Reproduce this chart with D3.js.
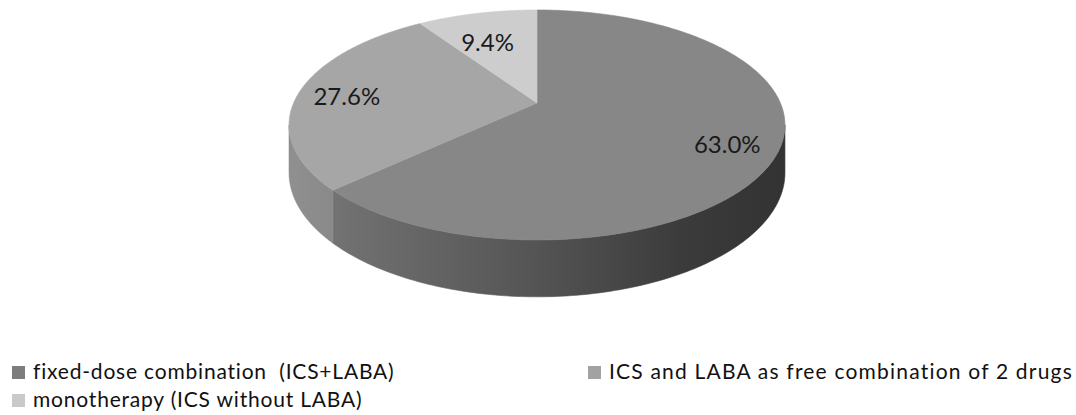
<!DOCTYPE html>
<html>
<head>
<meta charset="utf-8">
<script src="https://cdn.jsdelivr.net/npm/d3@7"></script>
<style>
  body { margin: 0; background: #fff; }
  svg { display: block; font-family: Lato, "Open Sans", sans-serif; }
</style>
</head>
<body>
<div id="chart"></div>
<script>
const categories = [
  "fixed-dose combination  (ICS+LABA)",
  "ICS and LABA as free combination of 2 drugs",
  "monotherapy (ICS without LABA)"
];
const values = [63.0, 27.6, 9.4];
const labels = ["63.0%", "27.6%", "9.4%"];

const width = 1076;
const height = 415;

// perspective ellipse
const cx = 537, cy = 103;
const rx = 243.4, ry = 110.8;
const k = 0.191;      // foreshortening
const depth = 46;

const topColors = ["#878787", "#a6a6a6", "#cdcdcd"];
const legendColors = ["#7d7d7d", "#a2a2a2", "#c9c9c9"];

function proj(a, r = 1, z = 0) {
  const u = r * Math.sin(a), v = r * Math.cos(a);
  const w = 1 + k * v;
  return [cx + (rx * u) / w, cy - (ry * v) / w + (depth * z) / w];
}

const svg = d3.select("#chart").append("svg")
  .attr("width", width)
  .attr("height", height)
  .attr("viewBox", [0, 0, width, height]);

const defs = svg.append("defs");
const g0 = defs.append("linearGradient").attr("id", "side0")
  .attr("gradientUnits", "userSpaceOnUse")
  .attr("x1", cx - rx).attr("x2", cx + rx).attr("y1", 0).attr("y2", 0);
[[0, "#7c7c7c"], [0.1, "#717171"], [0.5, "#545454"], [0.8, "#3b3b3b"], [1, "#333"]]
  .forEach(([o, c]) => g0.append("stop").attr("offset", o).attr("stop-color", c));
const g1 = defs.append("linearGradient").attr("id", "side1")
  .attr("gradientUnits", "userSpaceOnUse")
  .attr("x1", cx - rx).attr("x2", cx - rx + 50).attr("y1", 0).attr("y2", 0);
[[0, "#8f8f8f"], [1, "#888888"]]
  .forEach(([o, c]) => g1.append("stop").attr("offset", o).attr("stop-color", c));
const sideFills = ["url(#side0)", "url(#side1)", "#999"];

const arcs = d3.pie().sort(null)(values);

// visible front of the cylinder wall
const frontStart = Math.acos(-k);
const frontEnd = 2 * Math.PI - frontStart;

const line = d3.line();
const sides = svg.append("g");
arcs.forEach((d, i) => {
  const a0 = Math.max(d.startAngle, frontStart);
  const a1 = Math.min(d.endAngle, frontEnd);
  if (a1 <= a0) return;
  const steps = d3.range(0, 1.0001, 1 / 120).map(t => a0 + t * (a1 - a0));
  const pts = steps.map(a => proj(a, 1, 0))
    .concat(steps.slice().reverse().map(a => proj(a, 1, 1)));
  sides.append("path")
    .attr("d", line(pts) + "Z")
    .attr("fill", sideFills[i])
    .attr("stroke", sideFills[i])
    .attr("stroke-width", 0.6);
});

const tops = svg.append("g");
arcs.forEach((d, i) => {
  const steps = d3.range(0, 1.0001, 1 / 200)
    .map(t => d.startAngle + t * (d.endAngle - d.startAngle));
  const pts = [proj(0, 0)].concat(steps.map(a => proj(a)));
  tops.append("path")
    .attr("d", line(pts) + "Z")
    .attr("fill", topColors[i])
    .attr("stroke", topColors[i])
    .attr("stroke-width", 0.6);
});

svg.append("g").selectAll("text")
  .data(arcs)
  .join("text")
  .attr("x", d => proj((d.startAngle + d.endAngle) / 2, 0.8)[0])
  .attr("y", (d, i) => proj((d.startAngle + d.endAngle) / 2, i === 2 ? 0.68 : 0.8)[1] + 6)
  .attr("text-anchor", "middle")
  .attr("dominant-baseline", "middle")
  .attr("font-size", 24)
  .attr("fill", "#1a1a1a")
  .text((d, i) => labels[i]);

// legend
const legendPos = [[12, 0], [588, 0], [12, 1]];
const legend = svg.append("g").attr("transform", "translate(0,366)");
const item = legend.selectAll("g")
  .data(categories)
  .join("g")
  .attr("transform", (d, i) => `translate(${legendPos[i][0]},${legendPos[i][1] * 28})`);
item.append("rect")
  .attr("width", 13).attr("height", 13)
  .attr("fill", (d, i) => legendColors[i]);
item.append("text")
  .attr("x", 21)
  .attr("y", 13)
  .attr("font-size", 21)
  .attr("letter-spacing", (d, i) => i === 1 ? 1.2 : 0.8)
  .attr("fill", "#111")
  .style("white-space", "pre")
  .text(d => d);
</script>
</body>
</html>
